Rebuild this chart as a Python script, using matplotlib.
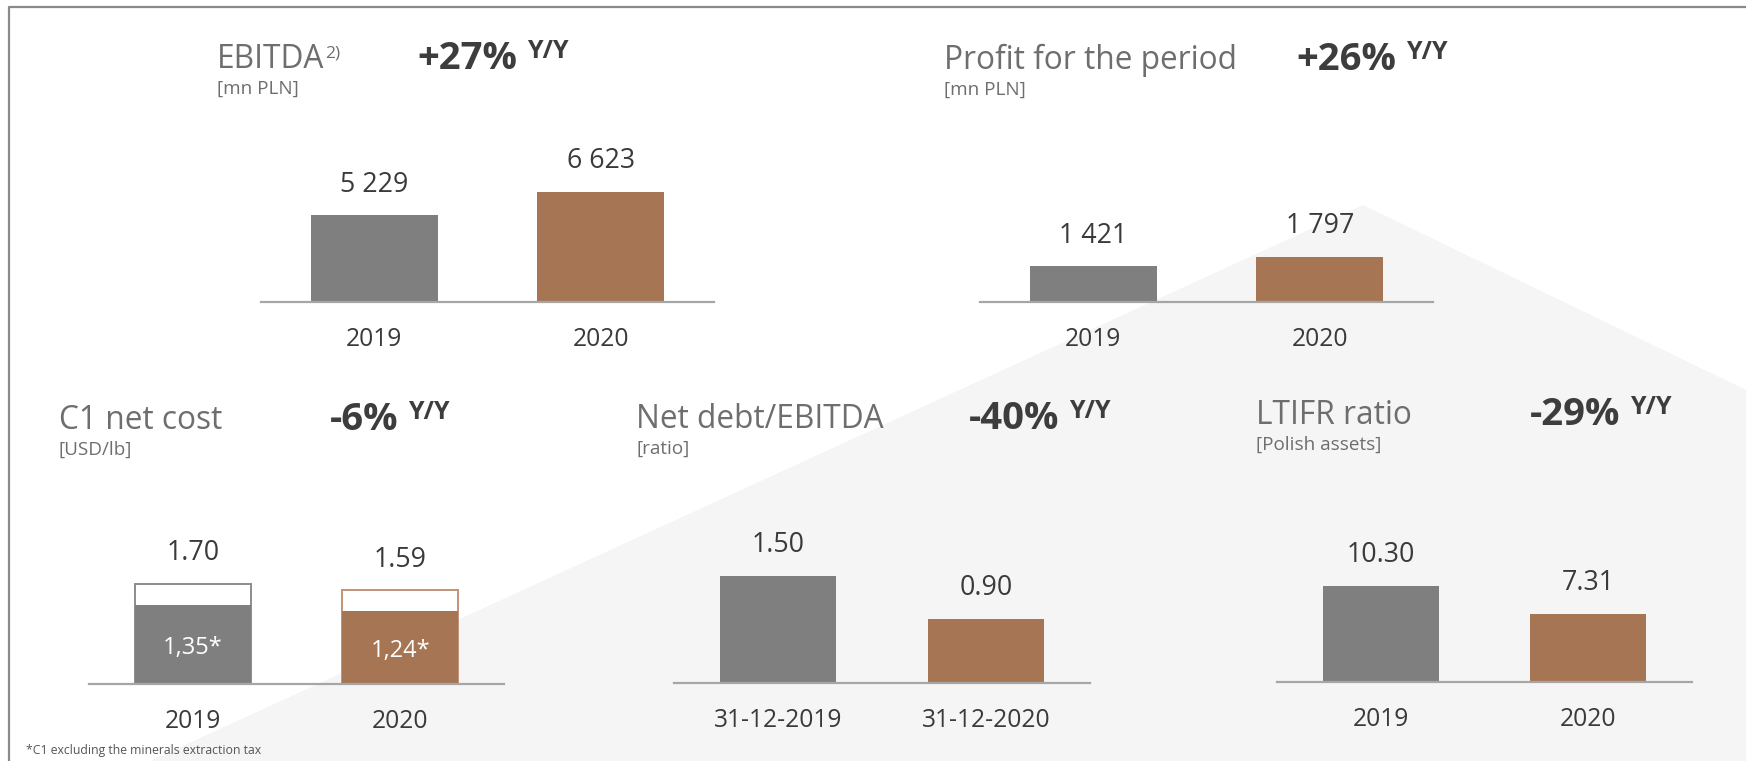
import matplotlib.pyplot as plt
from matplotlib.patches import Polygon

W, H = 1746, 761
DPI = 100

GRAY = "#7f7f7f"
BROWN = "#a67554"
BG = "#f5f5f5"
TITLE_C = "#6e6e6e"
BOLD_C = "#3d3d3d"
LABEL_C = "#3a3a3a"
AXIS_C = "#a6a6a6"
FONT = ["Open Sans", "DejaVu Sans"]

# ---------- data ----------
years = ["2019", "2020"]
dates = ["31-12-2019", "31-12-2020"]

ebitda = [5229, 6623]
profit = [1421, 1797]
c1_total = [1.70, 1.59]
c1_excl_tax = [1.35, 1.24]
net_debt_ebitda = [1.50, 0.90]
ltifr = [10.30, 7.31]

yy_change = ["+27%", "+26%", "-6%", "-40%", "-29%"]


def fmt_space(v):
    return f"{v:,.0f}".replace(",", " ")


def fmt_dot(v):
    return f"{v:.2f}"


def fmt_comma(v):
    return f"{v:.2f}".replace(".", ",") + "*"


fig = plt.figure(figsize=(W / DPI, H / DPI), dpi=DPI)
fig.patch.set_facecolor("white")

# background: light grey wedge + frame on top and left (pixel coords)
bg = fig.add_axes([0, 0, 1, 1], zorder=-10)
bg.set_xlim(0, W)
bg.set_ylim(H, 0)
bg.axis("off")
bg.add_patch(Polygon([(1363, 205), (1746, 390), (1746, 761), (150, 761)],
                     closed=True, facecolor=BG, edgecolor="none"))
bg.plot([9, 9, W], [H, 7, 7], color="#8a8a8a", lw=1.6, solid_capstyle="butt")


def px_text(x, y, s, size, color, weight="normal"):
    return fig.text(x / W, 1 - y / H, s, fontsize=size, color=color, weight=weight,
                    family=FONT, va="baseline", ha="left")


def panel(left, base, width, height, ytop, cats, values, fmt):
    ax = fig.add_axes([left / W, 1 - base / H, width / W, height / H])
    ax.patch.set_alpha(0)
    x = range(len(values))
    ax.bar(x, values, width=0.56, color=[GRAY, BROWN], zorder=2)
    ax.set_xlim(-0.5, 1.5)
    ax.set_ylim(0, ytop)
    for s in ["top", "left", "right"]:
        ax.spines[s].set_visible(False)
    ax.spines["bottom"].set_color(AXIS_C)
    ax.spines["bottom"].set_linewidth(1.6)
    ax.set_yticks([])
    ax.set_xticks(list(x))
    ax.set_xticklabels(cats, fontsize=17.7, color=LABEL_C, family=FONT)
    ax.tick_params(axis="x", length=0, pad=18)
    if fmt is not None:
        for i, v in enumerate(values):
            ax.annotate(fmt(v), (i, v), xytext=(0, 17), textcoords="offset points",
                        ha="center", va="baseline", fontsize=19.3, color=LABEL_C,
                        family=FONT)
    return ax


# ---------- top row ----------
panel(261, 302, 453, 160, 6623 * 160 / 110, years, ebitda, fmt_space)
panel(980, 302, 453, 160, 1797 * 160 / 45, years, profit, fmt_space)

# ---------- bottom row ----------
# C1: outlined total bar with the "excluding tax" part filled inside
ax_c1 = panel(89, 684, 415, 160, 1.70 * 160 / 100, years, c1_excl_tax, None)
for i, (tot, part) in enumerate(zip(c1_total, c1_excl_tax)):
    ec = "#8c8c8c" if i == 0 else "#c49378"
    ax_c1.bar(i, tot, width=0.56, facecolor="white", edgecolor=ec,
              linewidth=1.4, zorder=1)
    ax_c1.annotate(fmt_dot(tot), (i, tot), xytext=(0, 17), textcoords="offset points",
                   ha="center", va="baseline", fontsize=19.3, color=LABEL_C, family=FONT)
    ax_c1.text(i, part * 0.45, fmt_comma(part), ha="center", va="center",
               fontsize=17, color="white", family=FONT, zorder=3)

panel(674, 683, 416, 160, 1.50 * 160 / 107, dates, net_debt_ebitda, fmt_dot)
panel(1277, 682, 415, 160, 10.30 * 160 / 96, years, ltifr, fmt_dot)

# ---------- titles ----------
titles = [
    (217, 68, "EBITDA", "[mn PLN]", 417),
    (944, 69, "Profit for the period", "[mn PLN]", 1296),
    (59, 429, "C1 net cost", "[USD/lb]", 330),
    (636, 428, "Net debt/EBITDA", "[ratio]", 969),
    (1256, 424, "LTIFR ratio", "[Polish assets]", 1530),
]
title_artists = []
for (tx, ty, title, unit, bx), chg in zip(titles, yy_change):
    t = px_text(tx, ty, title, 22.8, TITLE_C)
    title_artists.append(t)
    px_text(tx, ty + 26, unit, 13.6, TITLE_C)
    b = px_text(bx, ty + 1, chg, 27.5, BOLD_C, weight="bold")
    bg.annotate("Y/Y", xy=(1, 1), xycoords=b, xytext=(7, 1),
                textcoords="offset points", ha="left", va="top",
                fontsize=18, weight="bold", color=BOLD_C, family=FONT)

# footnote mark on EBITDA
bg.annotate("2)", xy=(1, 1), xycoords=title_artists[0], xytext=(0.5, -2),
            textcoords="offset points", ha="left", va="top",
            fontsize=12.5, color=TITLE_C, family=FONT)

px_text(26, 754, "*C1 excluding the minerals extraction tax", 8.8, "#555555")

fig.savefig("out.png", dpi=DPI)
